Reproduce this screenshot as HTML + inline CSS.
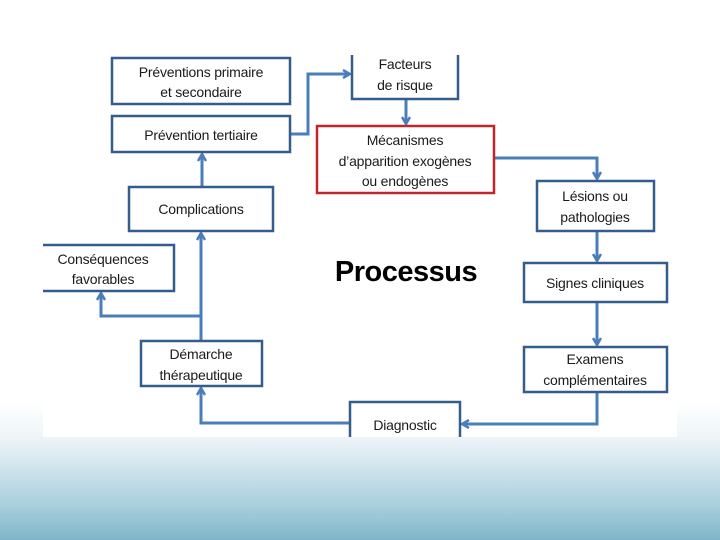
<!DOCTYPE html>
<html><head><meta charset="utf-8"><style>
html,body{margin:0;padding:0;width:720px;height:540px;overflow:hidden}
body{position:relative;
background:linear-gradient(180deg,#ffffff 0px,#ffffff 400px,#eef5f8 437px,#d3e6ee 465px,#a9cfdc 505px,#7fb6c9 540px);}
svg{position:absolute;left:0;top:0}
text{font-family:"Liberation Sans",sans-serif;font-size:14px;fill:#1a1a1a;text-anchor:middle;letter-spacing:-0.2px}
</style></head><body>
<svg width="720" height="540">
<defs><marker id="a" markerWidth="10" markerHeight="10" refX="8" refY="5" orient="auto" markerUnits="userSpaceOnUse">
<path d="M1,1 L8,5 L1,9" fill="none" stroke="#4a7ebb" stroke-width="2.5"/></marker>
<clipPath id="c"><rect x="43" y="55" width="634" height="382"/></clipPath></defs>
<rect x="43" y="55" width="634" height="382" fill="#fff"/>
<g clip-path="url(#c)">
<g fill="none" stroke="#4a7ebb" stroke-width="3">
<path d="M290,134 H308 V74 H350" marker-end="url(#a)"/>
<path d="M406,100 V124" marker-end="url(#a)"/>
<path d="M494,158 H597 V179" marker-end="url(#a)"/>
<path d="M597,232 V261" marker-end="url(#a)"/>
<path d="M597,302 V345" marker-end="url(#a)"/>
<path d="M597,392 V424 H462" marker-end="url(#a)"/>
<path d="M350,423 H201 V388" marker-end="url(#a)"/>
<path d="M201,341 V233" marker-end="url(#a)"/>
<path d="M201,316 H101 V293" marker-end="url(#a)"/>
<path d="M202,187 V154" marker-end="url(#a)"/>
</g>
<g fill="#fff" stroke="#345c8c" stroke-width="2.5">
<rect x="112" y="58" width="178" height="46"/>
<rect x="112" y="116" width="178" height="36"/>
<rect x="129" y="187" width="144" height="44"/>
<rect x="38" y="245" width="136" height="46"/>
<rect x="141" y="341" width="121" height="45"/>
<rect x="350" y="402" width="110" height="45"/>
<rect x="524" y="347" width="143" height="45"/>
<rect x="524" y="263" width="143" height="39"/>
<rect x="537" y="181" width="117" height="50"/>
<rect x="352" y="45" width="106" height="54"/>
</g>
<rect x="317" y="126" width="177" height="67" fill="#fff" stroke="#c0272d" stroke-width="2.5"/>
</g>
<text x="201" y="77">Préventions primaire</text>
<text x="201" y="97">et secondaire</text>
<text x="201" y="140">Prévention tertiaire</text>
<text x="201" y="214">Complications</text>
<text x="103" y="264">Conséquences</text>
<text x="103" y="284">favorables</text>
<text x="201" y="359">Démarche</text>
<text x="201" y="380">thérapeutique</text>
<text x="405" y="430">Diagnostic</text>
<text x="595" y="364">Examens</text>
<text x="595" y="385">complémentaires</text>
<text x="595" y="288">Signes cliniques</text>
<text x="595" y="201">Lésions ou</text>
<text x="595" y="222">pathologies</text>
<text x="405" y="69">Facteurs</text>
<text x="405" y="90">de risque</text>
<text x="405" y="145">Mécanismes</text>
<text x="405" y="166">d’apparition exogènes</text>
<text x="405" y="186">ou endogènes</text>
<text x="406" y="281" style="font-size:29px;font-weight:bold;fill:#000;letter-spacing:-0.5px">Processus</text>
</svg>
</body></html>
